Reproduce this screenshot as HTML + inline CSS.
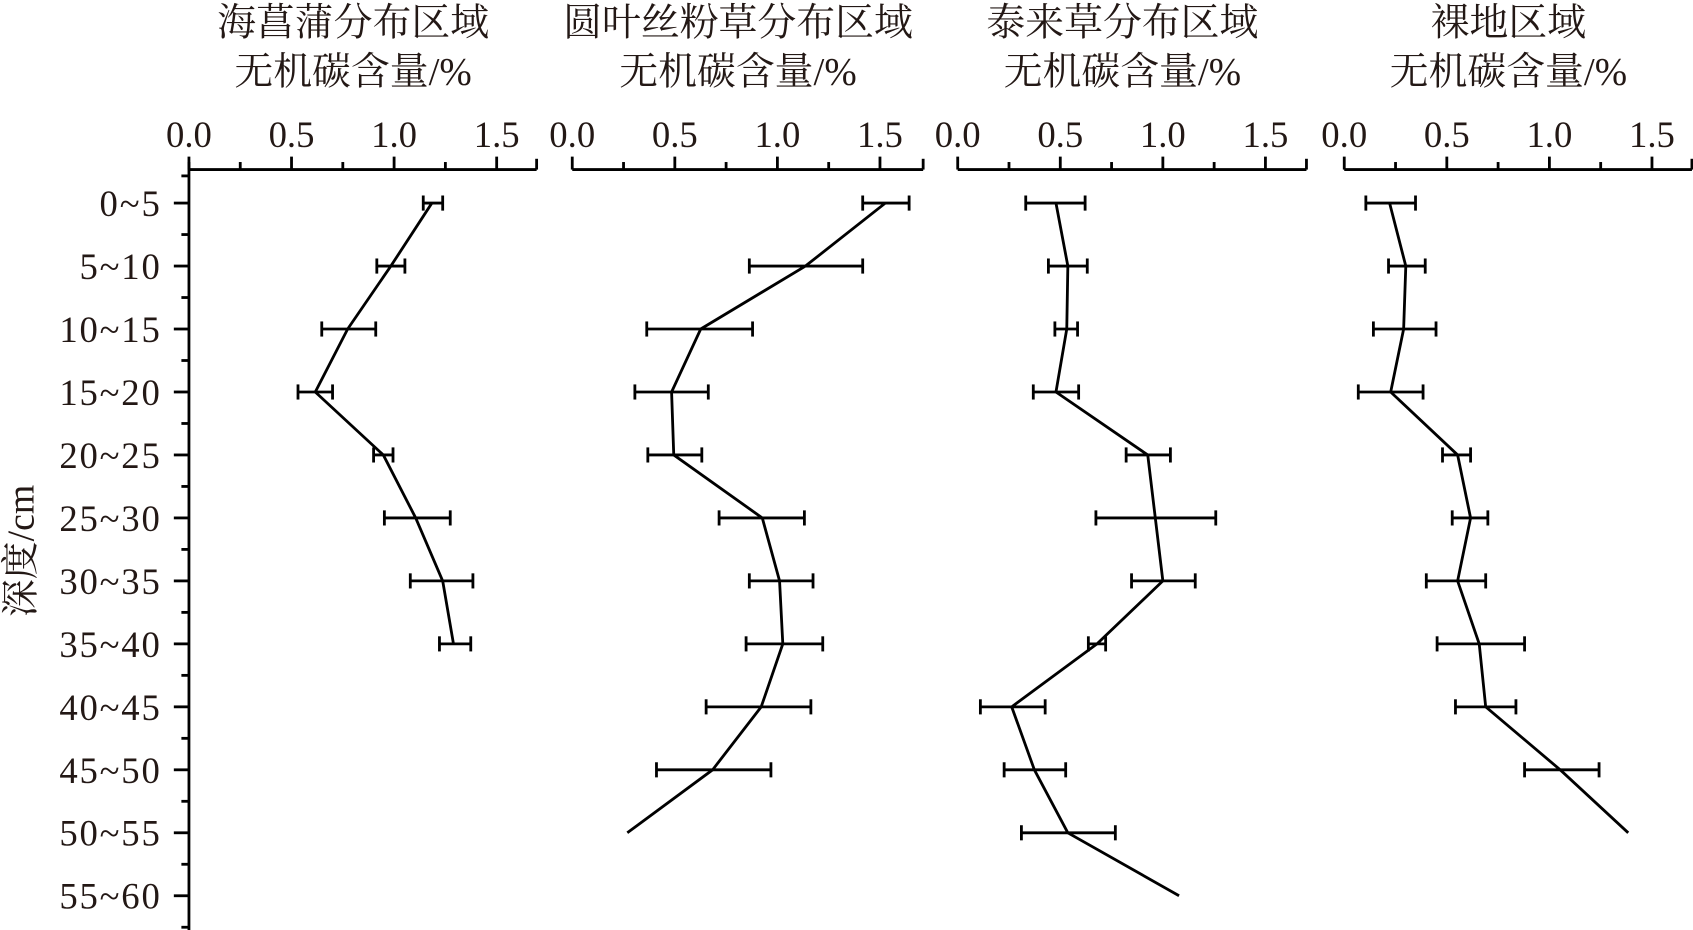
<!DOCTYPE html>
<html><head><meta charset="utf-8"><style>
html,body{margin:0;padding:0;background:#fff;}
svg{display:block;}
text{font-family:"Liberation Serif","Noto Serif CJK SC",serif;fill:#231815;}
</style></head><body>
<svg width="1693" height="930" viewBox="0 0 1568 861" preserveAspectRatio="none" xmlns="http://www.w3.org/2000/svg">
<script>
(function(){
var NS="http://www.w3.org/2000/svg";
var svg=document.querySelector("svg");
function el(n,a,p){var e=document.createElementNS(NS,n);for(var k in a)e.setAttribute(k,a[k]);(p||svg).appendChild(e);return e;}
var g=el("g",{stroke:"#000","stroke-width":"2.6",fill:"none"});
var T=el("g",{});
function txt(x,y,s,size,anchor){var t=el("text",{x:x,y:y,"font-size":size,"text-anchor":anchor||"middle"},T);t.textContent=s;return t;}
var panels=[
 {x0:175,end:497,t1:"海菖蒲分布区域",
  pts:[[400,392,410],[362,349,375],[322,298,348],[292,276,308],[355,346,364],[385,356,417],[410,380,438],[420,407,436]]},
 {x0:530,end:855,t1:"圆叶丝粉草分布区域",
  pts:[[820,799,842],[746,694,799],[649,599,697],[622,588,656],[624,600,650],[706,666,745],[722,694,753],[725,691,762],[705,654,751],[660,608,714],[581]]},
 {x0:887,end:1210,t1:"泰来草分布区域",
  pts:[[978,950,1005],[989,971,1007],[988,977,998],[978,957,999],[1063,1043,1084],[1070,1015,1126],[1077,1048,1107],[1016,1008,1024],[937,908,968],[958,930,987],[989,946,1033],[1092]]},
 {x0:1245,end:1567,t1:"裸地区域",
  pts:[[1287,1265,1311],[1302,1286,1320],[1300,1272,1330],[1288,1258,1318],[1350,1336,1362],[1362,1345,1378],[1350,1321,1376],[1370,1331,1412],[1376,1348,1404],[1445,1412,1481],[1508]]}
];
var ax=157, u=190, y0=188, dy=58.3;
panels.forEach(function(p){
  el("line",{x1:p.x0,y1:ax,x2:p.end,y2:ax},g);
  for(var i=0;i<=6;i++){var x=p.x0+i*u/4;var h=(i%2==0)?12:7;el("line",{x1:x,y1:ax,x2:x,y2:ax-h},g);}
  el("line",{x1:p.end,y1:ax,x2:p.end,y2:ax-10},g);
  ["0.0","0.5","1.0","1.5"].forEach(function(s,i){txt(p.x0+i*u/2,136,s,34);});
  var cx=(p.x0+p.end)/2-9;
  txt(cx,33,p.t1,36);
  txt(cx,78,"无机碳含量/%",36);
  var d="";
  p.pts.forEach(function(q,i){var y=y0+i*dy;d+=(i?"L":"M")+q[0]+","+y;
    if(q.length>1){el("line",{x1:q[1],y1:y,x2:q[2],y2:y},g);
      el("line",{x1:q[1],y1:y-7,x2:q[1],y2:y+7},g);el("line",{x1:q[2],y1:y-7,x2:q[2],y2:y+7},g);}
  });
  el("path",{d:d,"stroke-linejoin":"round"},g);
});
el("line",{x1:175,y1:150,x2:175,y2:861},g);
var labels=["0~5","5~10","10~15","15~20","20~25","25~30","30~35","35~40","40~45","45~50","50~55","55~60"];
for(var i=0;i<12;i++){var y=y0+i*dy;el("line",{x1:161,y1:y,x2:175,y2:y},g);
  el("line",{x1:168,y1:y+dy/2,x2:175,y2:y+dy/2},g);
  var t=txt(148,y+12,labels[i],34,"end");t.setAttribute("textLength",labels[i].length*18.6);}
el("line",{x1:168,y1:y0-dy/2+4,x2:175,y2:y0-dy/2+4},g);
var t=txt(0,0,"深度/cm",35);t.setAttribute("transform","translate(31,510) rotate(-90)");
})();
</script>
</svg>
</body></html>
